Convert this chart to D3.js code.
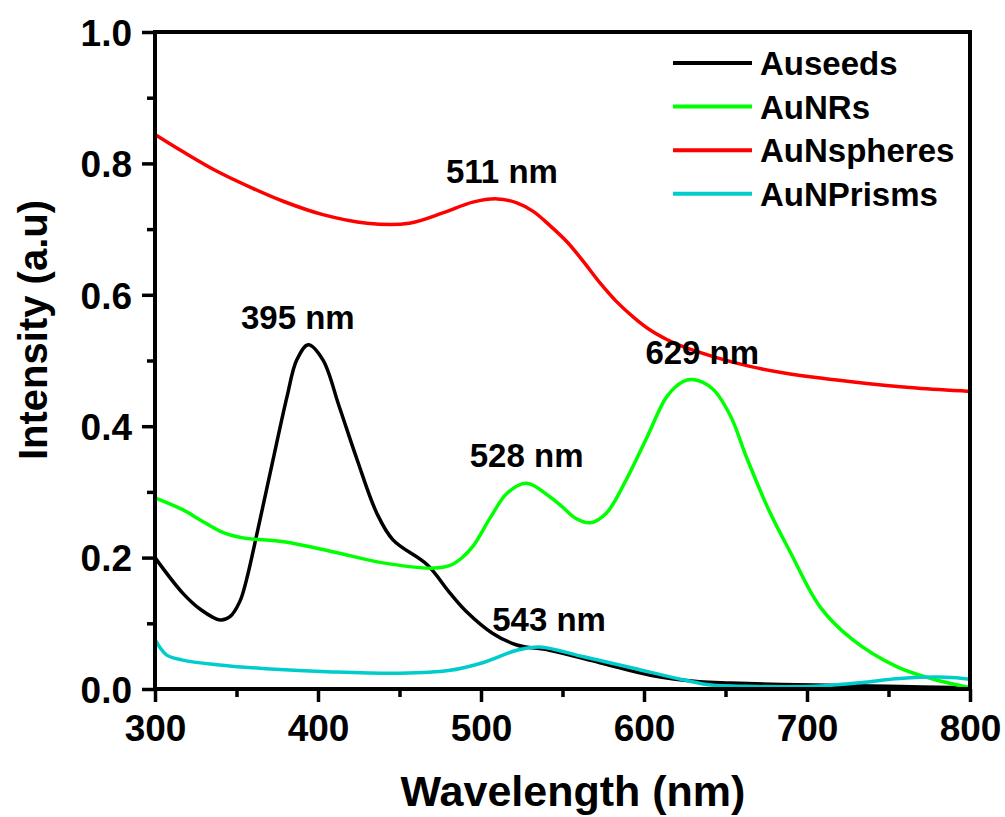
<!DOCTYPE html>
<html>
<head>
<meta charset="utf-8">
<script src="https://cdn.jsdelivr.net/npm/d3@7"></script>
<style>
  html, body { margin: 0; padding: 0; background: #fff; }
  svg text { font-family: Arial, "Liberation Sans", sans-serif; font-weight: bold; fill: #000; }
</style>
</head>
<body>
<div id="chart"></div>
<script>
//--------------------------------------------------
// Datos
//--------------------------------------------------
const seedsNm  = [300, 317, 328, 340, 346, 352, 356, 364, 372, 381, 387, 394, 403, 413, 424, 436, 446, 467, 481, 491, 507, 522, 542, 573, 604, 634, 653, 704, 750, 800];
const seedsInt = [0.200, 0.146, 0.121, 0.105, 0.110, 0.133, 0.165, 0.253, 0.344, 0.445, 0.501, 0.524, 0.501, 0.430, 0.349, 0.268, 0.227, 0.189, 0.146, 0.118, 0.085, 0.067, 0.059, 0.040, 0.021, 0.011, 0.009, 0.006, 0.004, 0.002];

const nrNm  = [300, 317, 328, 342, 354, 379, 409, 440, 471, 481, 488, 495, 506, 516, 528, 542, 550, 558, 567, 577, 589, 602, 614, 624, 630, 642, 653, 663, 677, 690, 708, 728, 755, 776, 800];
const nrInt = [0.291, 0.273, 0.257, 0.238, 0.230, 0.224, 0.209, 0.192, 0.184, 0.188, 0.199, 0.217, 0.262, 0.298, 0.313, 0.293, 0.277, 0.260, 0.253, 0.268, 0.318, 0.384, 0.445, 0.468, 0.471, 0.457, 0.416, 0.352, 0.270, 0.207, 0.125, 0.075, 0.034, 0.016, 0.002];

const sphNm  = [300, 317, 338, 360, 379, 403, 430, 456, 477, 495, 510, 522, 532, 542, 553, 563, 573, 583, 594, 604, 614, 624, 645, 665, 686, 726, 767, 800];
const sphInt = [0.844, 0.818, 0.788, 0.762, 0.742, 0.722, 0.709, 0.709, 0.725, 0.741, 0.746, 0.740, 0.727, 0.706, 0.680, 0.650, 0.618, 0.590, 0.565, 0.546, 0.532, 0.521, 0.504, 0.491, 0.481, 0.468, 0.458, 0.453];

const prismNm  = [300, 307, 317, 338, 368, 409, 450, 480, 501, 522, 536, 563, 593, 624, 641, 663, 704, 716, 734, 757, 785, 800];
const prismInt = [0.075, 0.052, 0.044, 0.037, 0.031, 0.026, 0.024, 0.028, 0.040, 0.059, 0.064, 0.049, 0.032, 0.014, 0.006, 0.004, 0.004, 0.006, 0.010, 0.016, 0.018, 0.015];

const seriesNames  = ["Auseeds", "AuNRs", "AuNspheres", "AuNPrisms"];
const seriesColors = ["#000000", "#00ff00", "#ff0000", "#00cccc"];

// picos anotados
const peakNm    = [395, 511, 528, 543, 629];
const peakInt   = [0.524, 0.746, 0.313, 0.064, 0.471];
const peakLabel = ["395 nm", "511 nm", "528 nm", "543 nm", "629 nm"];

const xTicks = [300, 400, 500, 600, 700, 800];
const yTicks = [0.0, 0.2, 0.4, 0.6, 0.8, 1.0];

//--------------------------------------------------
// Layout
//--------------------------------------------------
const W = 1005, H = 817;
const M = { top: 32, right: 35, bottom: 128, left: 155 };

const svg = d3.select("#chart").append("svg")
  .attr("width", W)
  .attr("height", H);

const x = d3.scaleLinear().domain([300, 800]).range([M.left, W - M.right]);
const y = d3.scaleLinear().domain([0, 1]).range([H - M.bottom, M.top]);

const series = [
  { nm: seedsNm, v: seedsInt },
  { nm: nrNm,    v: nrInt },
  { nm: sphNm,   v: sphInt },
  { nm: prismNm, v: prismInt }
].map((s, i) => ({
  name: seriesNames[i],
  color: seriesColors[i],
  pts: s.nm.map((n, j) => [n, s.v[j]])
}));

const line = d3.line()
  .x(d => x(d[0]))
  .y(d => y(d[1]))
  .curve(d3.curveCatmullRom.alpha(0.5));

const plot = svg.append("g");
// orden: rojo, negro, verde, cian encima
[2, 0, 1, 3].forEach(i => {
  plot.append("path")
    .attr("d", line(series[i].pts))
    .attr("fill", "none")
    .attr("stroke", series[i].color)
    .attr("stroke-width", 3.5)
    .attr("stroke-linejoin", "round");
});

//--------------------------------------------------
// Ejes
//--------------------------------------------------
function styleAxis(g) {
  g.select(".domain").remove();
  g.selectAll("line").attr("stroke", "#000").attr("stroke-width", 3.5);
}

svg.append("g")
  .attr("transform", `translate(0,${H - M.bottom})`)
  .call(d3.axisBottom(x).tickValues(d3.range(350, 800, 100)).tickSize(8).tickFormat(""))
  .call(styleAxis);

svg.append("g")
  .attr("transform", `translate(0,${H - M.bottom})`)
  .call(d3.axisBottom(x).tickValues(xTicks).tickSize(13).tickPadding(6).tickFormat(d3.format("d")))
  .call(styleAxis)
  .selectAll("text")
  .attr("font-size", 37)
  .attr("dy", "0.9em");

svg.append("g")
  .attr("transform", `translate(${M.left},0)`)
  .call(d3.axisLeft(y).tickValues([0.1, 0.3, 0.5, 0.7, 0.9]).tickSize(8).tickFormat(""))
  .call(styleAxis);

svg.append("g")
  .attr("transform", `translate(${M.left},0)`)
  .call(d3.axisLeft(y).tickValues(yTicks).tickSize(13).tickPadding(10).tickFormat(d3.format(".1f")))
  .call(styleAxis)
  .selectAll("text")
  .attr("font-size", 37)
  .attr("dy", "0.36em");

// marco
svg.append("rect")
  .attr("x", M.left)
  .attr("y", M.top)
  .attr("width", W - M.left - M.right)
  .attr("height", H - M.top - M.bottom)
  .attr("fill", "none")
  .attr("stroke", "#000")
  .attr("stroke-width", 4);

// títulos
svg.append("text")
  .attr("x", 573)
  .attr("y", 806)
  .attr("text-anchor", "middle")
  .attr("font-size", 43)
  .text("Wavelength (nm)");

svg.append("text")
  .attr("transform", "translate(47,330) rotate(-90)")
  .attr("text-anchor", "middle")
  .attr("font-size", 40)
  .text("Intensity (a.u)");

//--------------------------------------------------
// Anotaciones
//--------------------------------------------------
const labelDx = [-12, 3, 0, -2, 11];
svg.append("g")
  .selectAll("text")
  .data(peakNm)
  .enter()
  .append("text")
  .attr("x", (d, i) => x(d) + labelDx[i])
  .attr("y", (d, i) => y(peakInt[i]) - 16)
  .attr("text-anchor", "middle")
  .attr("font-size", 33)
  .text((d, i) => peakLabel[i]);

//--------------------------------------------------
// Leyenda
//--------------------------------------------------
const leg = svg.append("g")
  .selectAll("g")
  .data(series)
  .enter()
  .append("g")
  .attr("transform", (d, i) => `translate(673,${63 + i * 43.6})`);

leg.append("line")
  .attr("x1", 0).attr("x2", 79)
  .attr("stroke", d => d.color)
  .attr("stroke-width", 4);

leg.append("text")
  .attr("x", 87)
  .attr("y", 12)
  .attr("font-size", 33)
  .text(d => d.name);
</script>
</body>
</html>
